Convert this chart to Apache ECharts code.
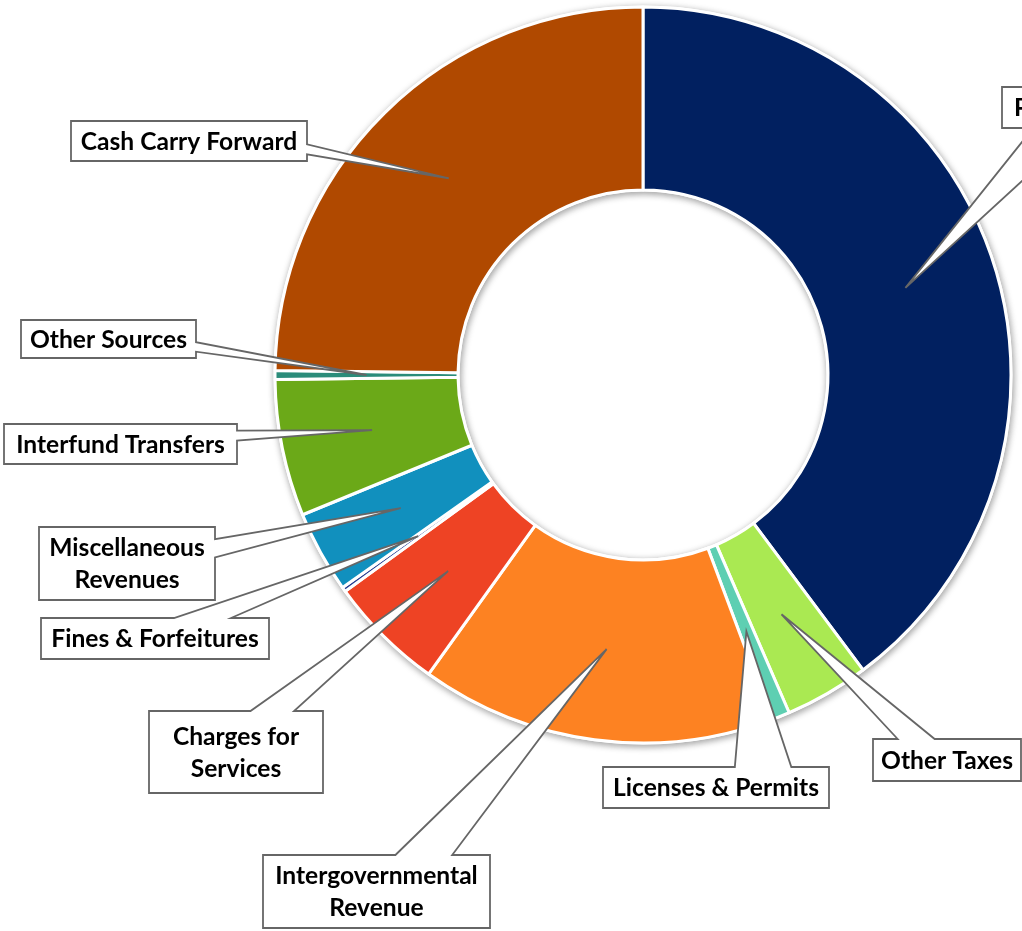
<!DOCTYPE html>
<html>
<head>
<meta charset="utf-8">
<script src="https://cdn.jsdelivr.net/npm/echarts@6/dist/echarts.min.js"></script>
<style>
  html, body { margin: 0; padding: 0; background: #ffffff; }
  #chart { width: 1022px; height: 931px; }
</style>
</head>
<body>
<div id="chart"></div>
<script>
// Revenue sources, clockwise from 12 o'clock (share of total, %)
const categories = [
  'Property Taxes', 'Other Taxes', 'Licenses & Permits', 'Intergovernmental Revenue',
  'Charges for Services', 'Fines & Forfeitures', 'Miscellaneous Revenues',
  'Interfund Transfers', 'Other Sources', 'Cash Carry Forward'
];
const shares = [39.8, 3.7, 0.8, 15.6, 5.1, 0.2, 3.6, 6.0, 0.4, 24.8];

// Callout wording as printed (line breaks where the box wraps)
const calloutText = [
  'Property Taxes', 'Other Taxes', 'Licenses & Permits', 'Intergovernmental\nRevenue',
  'Charges for\nServices', 'Fines & Forfeitures', 'Miscellaneous\nRevenues',
  'Interfund Transfers', 'Other Sources', 'Cash Carry Forward'
];

const sliceColors = [
  '#012060', '#aae952', '#5ecfb2', '#fd8222', '#ee4324',
  '#233a8f', '#1190be', '#6ba918', '#2b8c7a', '#b04900'
];

// Callout boxes: [left, top, width, height]; a null width fits the text
const calloutBoxes = [
  [1002, 87, null, 41],
  [873, 739, 148, 42],
  [603, 767, 226, 41],
  [263, 855, 227, 73],
  [149, 711, 174, 82],
  [41, 618, 228, 41],
  [39, 527, 176, 73],
  [4, 424, 233, 40],
  [21, 320, 175, 38],
  [71, 121, 236, 40]
];

const FONT_SIZE = 24.6;
const FONT = 'bold ' + FONT_SIZE + 'px Lato';

const chart = echarts.init(document.getElementById('chart'), null, { renderer: 'canvas' });

const CENTER = [643, 375];
const RADIUS = [185, 368];

chart.setOption({
  backgroundColor: '#ffffff',
  animation: false,
  series: [
    {
      // soft drop shadow under the ring
      type: 'pie',
      silent: true,
      center: CENTER,
      radius: RADIUS,
      label: { show: false },
      labelLine: { show: false },
      emphasis: { disabled: true },
      itemStyle: {
        color: '#ffffff',
        borderColor: '#ffffff',
        borderWidth: 3,
        shadowBlur: 7,
        shadowColor: 'rgba(0,0,0,0.35)',
        shadowOffsetX: 1,
        shadowOffsetY: 2
      },
      data: [1]
    },
    {
      type: 'pie',
      center: CENTER,
      radius: RADIUS,
      startAngle: 90,
      clockwise: true,
      avoidLabelOverlap: false,
      label: { show: false },
      labelLine: { show: false },
      emphasis: { disabled: true },
      itemStyle: { borderColor: '#ffffff', borderWidth: 3 },
      data: categories.map((name, i) => ({
        name: name,
        value: shares[i],
        itemStyle: { color: sliceColors[i] }
      }))
    }
  ]
});

// Rectangle with a wedge pointing at `tip` (same rules as a wedge callout shape)
function calloutOutline(box, tip) {
  const l = box[0], t = box[1], w = box[2], h = box[3];
  const r = l + w, b = t + h;
  const dxPos = tip[0] - (l + w / 2);
  const dyPos = tip[1] - (t + h / 2);
  const dz = Math.abs(dyPos) - Math.abs(dxPos * h / w);
  const x1 = l + w * (dxPos > 0 ? 7 : 2) / 12;
  const x2 = l + w * (dxPos > 0 ? 10 : 5) / 12;
  const y1 = t + h * (dyPos > 0 ? 7 : 2) / 12;
  const y2 = t + h * (dyPos > 0 ? 10 : 5) / 12;
  const pts = [[l, t]];
  if (dz > 0 && dyPos <= 0) pts.push([x1, t], tip, [x2, t]);
  pts.push([r, t]);
  if (dz <= 0 && dxPos > 0) pts.push([r, y1], tip, [r, y2]);
  pts.push([r, b]);
  if (dz > 0 && dyPos > 0) pts.push([x2, b], tip, [x1, b]);
  pts.push([l, b]);
  if (dz <= 0 && dxPos <= 0) pts.push([l, y2], tip, [l, y1]);
  return pts;
}

function textWidth(str) {
  const ctx = document.createElement('canvas').getContext('2d');
  ctx.font = FONT;
  return Math.max.apply(null, str.split('\n').map(s => ctx.measureText(s).width));
}

function sliceLayouts() {
  const data = chart.getModel().getSeriesByIndex(1).getData();
  const out = [];
  for (let i = 0; i < data.count(); i++) out.push(data.getItemLayout(i));
  return out;
}

function drawCallouts() {
  const layouts = sliceLayouts();
  const elements = [];
  layouts.forEach((lay, i) => {
    const mid = (lay.startAngle + lay.endAngle) / 2;
    const rm = (lay.r0 + lay.r) / 2;
    const tip = [lay.cx + rm * Math.cos(mid), lay.cy + rm * Math.sin(mid)];
    const box = calloutBoxes[i].slice();
    if (box[2] == null) box[2] = Math.round(textWidth(calloutText[i]) + 24);
    elements.push({
      type: 'polygon',
      z: 100,
      silent: true,
      shape: { points: calloutOutline(box, tip) },
      style: { fill: '#ffffff', stroke: '#666666', lineWidth: 1.8, lineJoin: 'miter' }
    });
    elements.push({
      type: 'text',
      z: 101,
      silent: true,
      style: {
        text: calloutText[i],
        x: box[0] + box[2] / 2,
        y: box[1] + box[3] / 2 + 1,
        align: 'center',
        verticalAlign: 'middle',
        fontFamily: 'Lato',
        fontWeight: 'bold',
        fontSize: FONT_SIZE,
        lineHeight: 32,
        fill: '#000000'
      }
    });
  });
  chart.setOption({ graphic: { elements: elements } });
}

drawCallouts();
</script>
</body>
</html>
